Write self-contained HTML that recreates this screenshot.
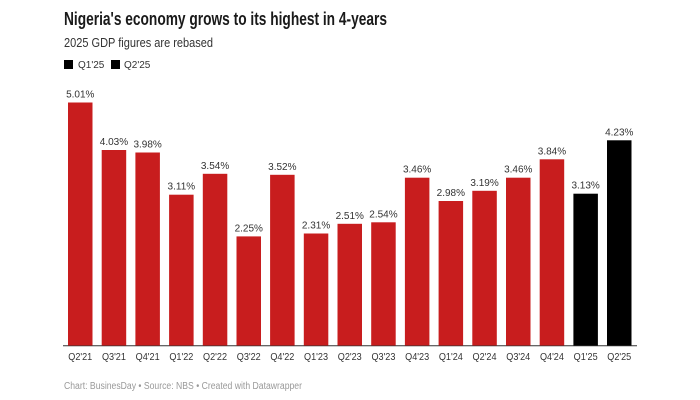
<!DOCTYPE html>
<html>
<head>
<meta charset="utf-8">
<style>
  html,body{margin:0;padding:0;background:#fff;}
  svg{display:block;}
  text{font-family:"Liberation Sans", Arial, sans-serif;}
</style>
</head>
<body>
<svg width="700" height="400" viewBox="0 0 700 400" xmlns="http://www.w3.org/2000/svg">
  <rect width="700" height="400" fill="#fff"/>
  <text x="64" y="25" font-size="18.5" font-weight="bold" fill="#1a1a1a" textLength="323" lengthAdjust="spacingAndGlyphs">Nigeria's economy grows to its highest in 4-years</text>
  <text x="64" y="47" font-size="12.5" fill="#333" textLength="149" lengthAdjust="spacingAndGlyphs">2025 GDP figures are rebased</text>

  <rect x="64" y="60" width="9" height="9" fill="#000"/>
  <text x="78" y="68" font-size="10" fill="#333">Q1'25</text>
  <rect x="111" y="60" width="9" height="9" fill="#000"/>
  <text x="124" y="68" font-size="10" fill="#333">Q2'25</text>

  <g id="bars"></g>
  <line x1="63" y1="345.8" x2="637" y2="345.8" stroke="#333" stroke-width="1"/>

  <text x="64" y="389" font-size="10" fill="#999" textLength="238" lengthAdjust="spacingAndGlyphs">Chart: BusinesDay • Source: NBS • Created with Datawrapper</text>

  <g font-size="10" fill="#333" text-anchor="middle">
    <!-- bars generated inline -->
    <rect x="68.0" y="102.5" width="24.5" height="243.0" fill="#c81d1e"/>
    <text x="80.25" y="97.5">5.01%</text>
    <text x="80.25" y="360" font-size="10.5" textLength="24" lengthAdjust="spacingAndGlyphs">Q2'21</text>

    <rect x="101.7" y="150.0" width="24.5" height="195.5" fill="#c81d1e"/>
    <text x="113.95" y="145">4.03%</text>
    <text x="113.95" y="360" font-size="10.5" textLength="24" lengthAdjust="spacingAndGlyphs">Q3'21</text>

    <rect x="135.4" y="152.5" width="24.5" height="193.0" fill="#c81d1e"/>
    <text x="147.65" y="147.5">3.98%</text>
    <text x="147.65" y="360" font-size="10.5" textLength="24" lengthAdjust="spacingAndGlyphs">Q4'21</text>

    <rect x="169.1" y="194.7" width="24.5" height="150.8" fill="#c81d1e"/>
    <text x="181.35" y="189.7">3.11%</text>
    <text x="181.35" y="360" font-size="10.5" textLength="24" lengthAdjust="spacingAndGlyphs">Q1'22</text>

    <rect x="202.8" y="173.8" width="24.5" height="171.7" fill="#c81d1e"/>
    <text x="215.05" y="168.8">3.54%</text>
    <text x="215.05" y="360" font-size="10.5" textLength="24" lengthAdjust="spacingAndGlyphs">Q2'22</text>

    <rect x="236.5" y="236.4" width="24.5" height="109.1" fill="#c81d1e"/>
    <text x="248.75" y="231.4">2.25%</text>
    <text x="248.75" y="360" font-size="10.5" textLength="24" lengthAdjust="spacingAndGlyphs">Q3'22</text>

    <rect x="270.1" y="174.8" width="24.5" height="170.7" fill="#c81d1e"/>
    <text x="282.35" y="169.8">3.52%</text>
    <text x="282.35" y="360" font-size="10.5" textLength="24" lengthAdjust="spacingAndGlyphs">Q4'22</text>

    <rect x="303.8" y="233.5" width="24.5" height="112.0" fill="#c81d1e"/>
    <text x="316.05" y="228.5">2.31%</text>
    <text x="316.05" y="360" font-size="10.5" textLength="24" lengthAdjust="spacingAndGlyphs">Q1'23</text>

    <rect x="337.5" y="223.8" width="24.5" height="121.7" fill="#c81d1e"/>
    <text x="349.75" y="218.8">2.51%</text>
    <text x="349.75" y="360" font-size="10.5" textLength="24" lengthAdjust="spacingAndGlyphs">Q2'23</text>

    <rect x="371.2" y="222.3" width="24.5" height="123.2" fill="#c81d1e"/>
    <text x="383.45" y="217.3">2.54%</text>
    <text x="383.45" y="360" font-size="10.5" textLength="24" lengthAdjust="spacingAndGlyphs">Q3'23</text>

    <rect x="404.9" y="177.7" width="24.5" height="167.8" fill="#c81d1e"/>
    <text x="417.15" y="172.7">3.46%</text>
    <text x="417.15" y="360" font-size="10.5" textLength="24" lengthAdjust="spacingAndGlyphs">Q4'23</text>

    <rect x="438.6" y="201.0" width="24.5" height="144.5" fill="#c81d1e"/>
    <text x="450.85" y="196">2.98%</text>
    <text x="450.85" y="360" font-size="10.5" textLength="24" lengthAdjust="spacingAndGlyphs">Q1'24</text>

    <rect x="472.3" y="190.8" width="24.5" height="154.7" fill="#c81d1e"/>
    <text x="484.55" y="185.8">3.19%</text>
    <text x="484.55" y="360" font-size="10.5" textLength="24" lengthAdjust="spacingAndGlyphs">Q2'24</text>

    <rect x="506.0" y="177.7" width="24.5" height="167.8" fill="#c81d1e"/>
    <text x="518.25" y="172.7">3.46%</text>
    <text x="518.25" y="360" font-size="10.5" textLength="24" lengthAdjust="spacingAndGlyphs">Q3'24</text>

    <rect x="539.7" y="159.3" width="24.5" height="186.2" fill="#c81d1e"/>
    <text x="551.95" y="154.3">3.84%</text>
    <text x="551.95" y="360" font-size="10.5" textLength="24" lengthAdjust="spacingAndGlyphs">Q4'24</text>

    <rect x="573.4" y="193.7" width="24.5" height="151.8" fill="#000"/>
    <text x="585.65" y="188.7">3.13%</text>
    <text x="585.65" y="360" font-size="10.5" textLength="24" lengthAdjust="spacingAndGlyphs">Q1'25</text>

    <rect x="607.0" y="140.3" width="24.5" height="205.2" fill="#000"/>
    <text x="619.25" y="135.3">4.23%</text>
    <text x="619.25" y="360" font-size="10.5" textLength="24" lengthAdjust="spacingAndGlyphs">Q2'25</text>
  </g>
</svg>
</body>
</html>
